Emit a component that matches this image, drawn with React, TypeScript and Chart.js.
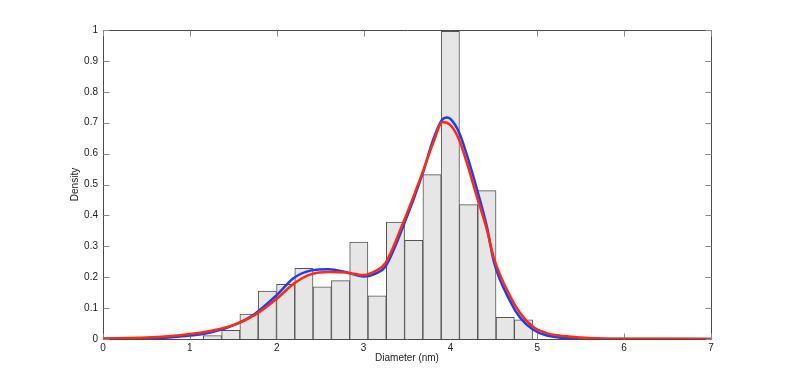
import React, { useEffect, useRef } from "react";
import { Chart, registerables } from "chart.js";

Chart.register(...registerables);

// Histogram bins (centres, nm) and densities
const binCenters = [1.260, 1.471, 1.681, 1.892, 2.103, 2.313, 2.524, 2.735, 2.945, 3.156, 3.367, 3.577, 3.788, 3.999, 4.209, 4.420, 4.631, 4.841];
const binDensity = [0.011, 0.028, 0.081, 0.155, 0.177, 0.229, 0.169, 0.189, 0.314, 0.140, 0.378, 0.319, 0.532, 0.996, 0.435, 0.480, 0.070, 0.062];

// Blue curve
const blueX = [0, 0.5, 0.75, 1, 1.25, 1.5, 1.75, 2, 2.2, 2.4, 2.6, 2.8, 3.0, 3.15, 3.25, 3.45, 3.68, 3.8, 3.9, 3.96, 4.0, 4.1, 4.19, 4.3, 4.42, 4.5, 4.69, 4.8, 4.95, 5.1, 5.25, 5.5, 5.75, 7];
const blueY = [0.0005, 0.002, 0.005, 0.011, 0.022, 0.044, 0.082, 0.142, 0.198, 0.222, 0.226, 0.216, 0.202, 0.213, 0.234, 0.36, 0.535, 0.644, 0.708, 0.717, 0.712, 0.668, 0.595, 0.49, 0.363, 0.25, 0.121, 0.07, 0.031, 0.012, 0.005, 0.001, 0, 0];

// Red curve
const redX = [0, 0.5, 0.75, 1, 1.25, 1.5, 1.75, 2, 2.2, 2.4, 2.6, 2.8, 3.0, 3.15, 3.25, 3.45, 3.68, 3.8, 3.91, 4.0, 4.1, 4.19, 4.3, 4.42, 4.5, 4.69, 4.8, 4.95, 5.1, 5.25, 5.5, 5.75, 6, 7];
const redY = [0.002, 0.005, 0.009, 0.016, 0.027, 0.045, 0.078, 0.13, 0.18, 0.21, 0.217, 0.215, 0.207, 0.222, 0.245, 0.372, 0.54, 0.633, 0.702, 0.692, 0.645, 0.569, 0.465, 0.353, 0.262, 0.137, 0.085, 0.04, 0.02, 0.011, 0.005, 0.002, 0.001, 0.0003];

const xTicks = [0, 1, 2, 3, 4, 5, 6, 7];
const yTicks = [0, 0.1, 0.2, 0.3, 0.4, 0.5, 0.6, 0.7, 0.8, 0.9, 1];

const FONT = "'Liberation Sans', Arial, Helvetica, sans-serif";

const boxPlugin = {
  id: "matlabBox",
  beforeDatasetsDraw(chart: any) {
    const { ctx, chartArea: a, scales } = chart;
    const xs = scales.x;
    const ys = scales.y;
    ctx.save();
    ctx.strokeStyle = "#4a4a4a";
    ctx.lineWidth = 1;
    const L = Math.round(a.left) + 0.5;
    const R = Math.round(a.right) + 0.5;
    const T = Math.round(a.top) + 0.5;
    const B = Math.round(a.bottom) + 0.5;
    ctx.beginPath();
    ctx.rect(L, T, R - L, B - T);
    ctx.stroke();
    ctx.strokeStyle = "#8a8a8a";
    ctx.beginPath();
    for (const v of xTicks) {
      const px = Math.round(xs.getPixelForValue(v)) + 0.5;
      ctx.moveTo(px, B);
      ctx.lineTo(px, B - 6);
      ctx.moveTo(px, T);
      ctx.lineTo(px, T + 6);
    }
    for (const v of yTicks) {
      const py = Math.round(ys.getPixelForValue(v)) + 0.5;
      ctx.moveTo(L, py);
      ctx.lineTo(L + 6, py);
      ctx.moveTo(R, py);
      ctx.lineTo(R - 6, py);
    }
    ctx.stroke();
    ctx.restore();
  },
};

export default function App() {
  const ref = useRef<HTMLCanvasElement | null>(null);

  useEffect(() => {
    if (!ref.current) return;
    const bars = binCenters.map((c, i) => ({ x: c, y: binDensity[i] }));
    const blue = blueX.map((x, i) => ({ x, y: blueY[i] }));
    const red = redX.map((x, i) => ({ x, y: redY[i] }));

    const chart = new Chart(ref.current, {
      type: "bar",
      data: {
        datasets: [
          {
            type: "line",
            label: "red",
            data: red,
            borderColor: "#ff2a10",
            borderWidth: 2.5,
            pointRadius: 0,
            cubicInterpolationMode: "monotone",
            fill: false,
            order: 0,
          } as any,
          {
            type: "line",
            label: "blue",
            data: blue,
            borderColor: "#1e3cff",
            borderWidth: 2.5,
            pointRadius: 0,
            cubicInterpolationMode: "monotone",
            fill: false,
            order: 1,
          } as any,
          {
            type: "bar",
            label: "hist",
            data: bars,
            backgroundColor: "#e6e6e6",
            borderColor: "#555555",
            borderWidth: 1,
            barPercentage: 1,
            categoryPercentage: 1,
            order: 2,
          } as any,
        ],
      },
      options: {
        responsive: false,
        animation: false,
        events: [],
        layout: { padding: { left: 60, right: 74, top: 30, bottom: 0 } },
        plugins: {
          legend: { display: false },
          tooltip: { enabled: false },
        },
        scales: {
          x: {
            type: "linear",
            min: 0,
            max: 7,
            offset: false,
            grid: { display: false, drawTicks: false },
            border: { display: false },
            afterFit: (s: any) => {
              s.height = 43;
            },
            afterBuildTicks: (s: any) => {
              s.ticks = xTicks.map((v) => ({ value: v }));
            },
            ticks: {
              padding: 3,
              color: "#222",
              font: { family: FONT, size: 10 },
              maxRotation: 0,
              callback: (v: any) => String(v),
            },
            title: {
              display: true,
              text: "Diameter (nm)",
              color: "#222",
              font: { family: FONT, size: 10 },
              padding: { top: 0, bottom: 18 },
            },
          },
          y: {
            type: "linear",
            min: 0,
            max: 1,
            grid: { display: false, drawTicks: false },
            border: { display: false },
            afterFit: (s: any) => {
              s.width = 43;
            },
            afterBuildTicks: (s: any) => {
              s.ticks = yTicks.map((v) => ({ value: v }));
            },
            ticks: {
              padding: 5,
              color: "#222",
              font: { family: FONT, size: 10 },
              callback: (v: any) => String(Math.round(Number(v) * 10) / 10),
            },
            title: {
              display: true,
              text: "Density",
              color: "#222",
              font: { family: FONT, size: 10 },
              padding: { top: 9, bottom: 0 },
            },
          },
        },
      },
      plugins: [boxPlugin],
    });
    return () => chart.destroy();
  }, []);

  return (
    <div style={{ position: "fixed", left: 0, top: 0, width: 785, height: 382, background: "#fff" }}>
      <canvas ref={ref} width={785} height={382} style={{ display: "block" }} />
    </div>
  );
}
